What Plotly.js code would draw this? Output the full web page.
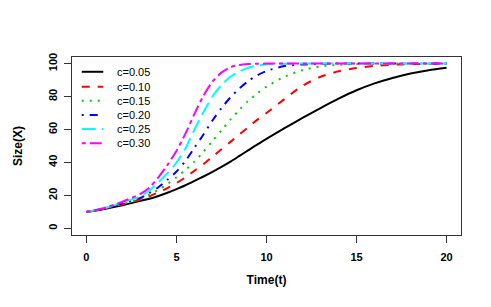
<!DOCTYPE html>
<html>
<head>
<meta charset="utf-8">
<script src="https://cdn.plot.ly/plotly-3.0.1.min.js"></script>
<style>
  html, body { margin: 0; padding: 0; background: #fff; }
  #chart { width: 491px; height: 307px; }
</style>
</head>
<body>
<div id="chart"></div>
<script>
// Time axis (finer sampling where the curves rise fastest)
const time = [0, 1, 2, 3, 3.5, 4, 4.5, 5, 5.5, 6, 6.5, 7, 7.5, 8, 8.5, 9, 9.5, 10, 11, 12, 13, 14, 15, 16, 17, 18, 19, 20];

// Size(X) for each value of c
const c005 = [10, 11.8, 14.0, 16.7, 18.0, 19.7, 21.6, 23.8, 26.2, 28.8, 31.5, 34.3, 37.3, 40.5, 44.0, 47.5, 51.0, 54.3, 60.8, 67.0, 73.0, 78.7, 83.8, 88.0, 91.3, 94.0, 96.0, 97.5];
const c010 = [10, 12.0, 14.6, 17.5, 19.5, 22.0, 24.5, 27.5, 31.0, 35.0, 39.0, 43.5, 48.0, 52.5, 57.0, 61.5, 66.0, 70.0, 78.5, 86.5, 92.0, 95.3, 97.3, 98.6, 99.3, 99.7, 99.9, 100];
const c015 = [10, 12.1, 15.0, 18.0, 20.5, 23.5, 27.0, 31.0, 35.5, 40.5, 46.5, 53.0, 59.5, 66.0, 72.0, 77.5, 82.0, 86.0, 92.0, 96.0, 98.3, 99.3, 99.8, 100, 100, 100, 100, 100];
const c020 = [10, 12.2, 15.4, 18.5, 21.5, 25.0, 29.5, 34.5, 41.0, 49.0, 57.0, 65.5, 73.0, 79.5, 85.0, 89.5, 93.0, 95.5, 98.5, 99.5, 99.9, 100, 100, 100, 100, 100, 100, 100];
const c025 = [10, 12.3, 15.8, 19.5, 23.0, 28.0, 33.5, 40.0, 48.5, 60.0, 70.5, 80.0, 87.0, 92.0, 95.3, 97.5, 98.8, 99.5, 99.9, 100, 100, 100, 100, 100, 100, 100, 100, 100];
const c030 = [10, 12.4, 16.2, 21.0, 24.8, 31.0, 38.5, 47.0, 57.5, 69.5, 80.5, 89.0, 94.5, 97.8, 99.2, 99.7, 99.9, 100, 100, 100, 100, 100, 100, 100, 100, 100, 100, 100];

const seriesNames = ["c=0.05", "c=0.10", "c=0.15", "c=0.20", "c=0.25", "c=0.30"];
const seriesValues = [c005, c010, c015, c020, c025, c030];
const xTicks = [0, 5, 10, 15, 20];
const yTicks = [0, 20, 40, 60, 80, 100];

// styles (R default palette + lty 1..6, lwd 2)
const colors = ["#000000", "#FF0000", "#00CD00", "#0000FF", "#00FFFF", "#FF00FF"];
const dashes = ["solid", "8px,8px", "2px,6px", "2px,6px,8px,6px", "14px,6px", "4px,4px,12px,4px"];

const FONT = "Liberation Sans, Arial, Helvetica, sans-serif";

const traces = seriesValues.map((vals, i) => ({
  type: "scatter",
  mode: "lines",
  x: time,
  y: vals,
  name: seriesNames[i],
  showlegend: false,
  line: { color: colors[i], width: 2, dash: dashes[i], shape: "spline", smoothing: 0.8 },
  hoverinfo: "skip"
}));

// manual legend (R style, no box)
const legX0 = 0.025, legX1 = 0.0805, legTextX = 0.1105;
const legY = [0.917, 0.833, 0.7545, 0.674, 0.5955, 0.515];
const shapes = [];
const annotations = [];
seriesNames.forEach((nm, i) => {
  shapes.push({
    type: "line", xref: "paper", yref: "paper",
    x0: legX0, x1: legX1, y0: legY[i], y1: legY[i],
    line: { color: colors[i], width: 2, dash: dashes[i] }
  });
  annotations.push({
    xref: "paper", yref: "paper", x: legTextX, y: legY[i],
    xanchor: "left", yanchor: "middle", showarrow: false,
    text: nm, font: { family: FONT, size: 11, color: "#000" }
  });
});

const layout = {
  width: 491,
  height: 307,
  margin: { l: 72, r: 30, t: 57, b: 72 },
  paper_bgcolor: "#ffffff",
  plot_bgcolor: "#ffffff",
  showlegend: false,
  xaxis: {
    range: [-0.8, 20.8],
    tickvals: xTicks,
    ticktext: xTicks.map(String),
    ticks: "outside", ticklen: 7, tickwidth: 1, tickcolor: "#333",
    showline: true, mirror: true, linecolor: "#333", linewidth: 1,
    showgrid: false, zeroline: false,
    ticklabelstandoff: 5,
    tickfont: { family: FONT, size: 11, weight: "bold", color: "#000" },
    title: { text: "Time(t)", font: { family: FONT, size: 12, weight: "bold", color: "#000" }, standoff: 13 }
  },
  yaxis: {
    range: [-4, 104],
    tickvals: yTicks,
    ticktext: yTicks.map(String),
    tickangle: -90,
    ticks: "outside", ticklen: 7, tickwidth: 1, tickcolor: "#333",
    showline: true, mirror: true, linecolor: "#333", linewidth: 1,
    showgrid: false, zeroline: false,
    ticklabelstandoff: 3,
    tickfont: { family: FONT, size: 11, weight: "bold", color: "#000" },
    title: { text: "Size(X)", font: { family: FONT, size: 12, weight: "bold", color: "#000" }, standoff: 21 }
  },
  shapes: shapes,
  annotations: annotations
};

Plotly.newPlot("chart", traces, layout, { displayModeBar: false, staticPlot: true });
</script>
</body>
</html>
